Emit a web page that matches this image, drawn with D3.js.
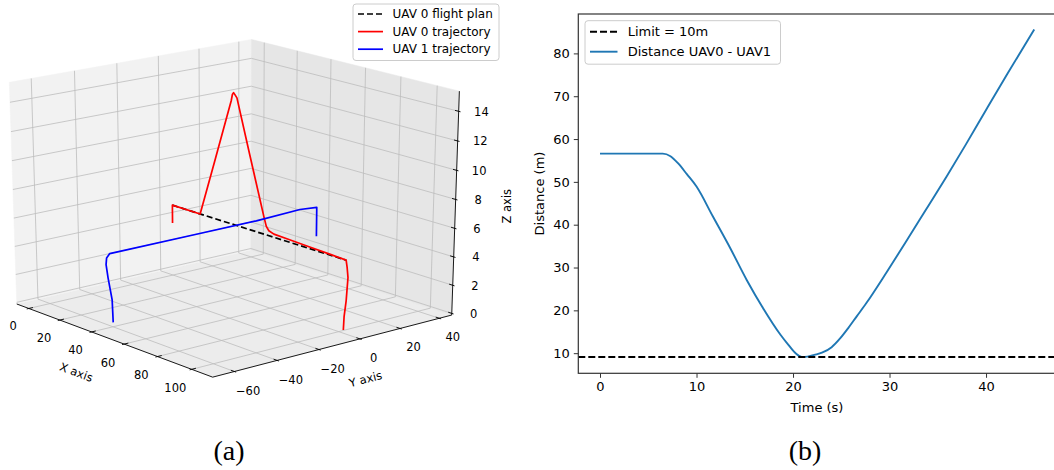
<!DOCTYPE html>
<html>
<head>
<meta charset="utf-8">
<script src="https://cdn.jsdelivr.net/npm/d3@7"></script>
<style>
  body { margin: 0; background: #fff; }
  text { font-family: "DejaVu Sans", sans-serif; fill: #000; }
</style>
</head>
<body>
<svg id="fig" width="1054" height="470"></svg>
<script>
// ---------- panel (a): 3D flight paths ----------
const planX = [0, 103.5];
const planY = [0, 0];
const planZ = [5, 5];

const uav0X = [0, 0, 17.4, 27, 36.5, 37.2, 37.9, 38.6, 39.9, 47, 56.1, 57.5, 59, 62, 70, 82, 95, 103.5, 104.1, 104.7, 103.9, 102.9, 102.6];
const uav0Y = [0, 0, 0, 0, 0, 0, 0, 0, 0, 0, 0, 0, 0, 0, 0, 0, 0, 0, 0, 0, 0, 0, 0];
const uav0Z = [3.7, 5, 5, 9.3, 13.6, 14.05, 14.2, 14.1, 13.9, 10.5, 6.2, 5.6, 5.35, 5.22, 5.18, 5.12, 5.05, 5.0, 4.55, 3.85, 2.2, 1.05, 0.1];

const uav1X = [39.5, 39.5, 39.5, 39.5, 39.5, 39.5, 39.5, 39.5, 39.5, 39.5, 39.5];
const uav1Y = [-59.5, -59.8, -61.5, -62.3, -62, -60.5, -20, 10, 32, 40.6, 40.6];
const uav1Z = [0.15, 1.75, 3.35, 4.3, 4.75, 5.0, 5.0, 5.0, 5.12, 5.0, 2.9];

const xTicks = [0, 20, 40, 60, 80, 100];
const yTicks = [-60, -40, -20, 0, 20, 40];
const zTicks = [0, 2, 4, 6, 8, 10, 12, 14];

// ---------- panel (b): distance over time ----------
const timeS = [0, 6.5, 7.3, 8.1, 9, 10, 11.7, 13.5, 15.2, 16.9, 18.7, 19.5, 20.3, 20.9, 21.5, 22.2, 23, 24, 24.9, 25.7, 26.6, 27.6, 29.7, 31.7, 33.8, 35.9, 37.9, 40, 42.2, 45];
const distM = [56.6, 56.6, 56.0, 54.3, 51.8, 48.9, 41.9, 34.5, 27.1, 20.5, 14.3, 12.0, 9.9, 9.1, 9.2, 9.6, 10.1, 11.4, 13.5, 15.8, 18.6, 21.7, 28.9, 36.0, 43.6, 51.2, 58.7, 66.8, 75.2, 85.6];
const limitM = 9.1;
const tTicks = [0, 10, 20, 30, 40];
const dTicks = [10, 20, 30, 40, 50, 60, 70, 80];

const svg = d3.select("#fig");
svg.append("rect").attr("width", 1054).attr("height", 470).attr("fill", "#fff");

const minus = v => String(v).replace("-", "\u2212");

// ===== 3D projection (azimuth / elevation view with a little perspective) =====
const xLim = [-7.9, 112], yLim = [-70, 46.4], zLim = [-0.12, 15.35];
const azim = -40 * Math.PI / 180, elev = 20 * Math.PI / 180, camDist = 10;

const nx = d3.scaleLinear().domain(xLim).range([-0.5, 0.5]);
const ny = d3.scaleLinear().domain(yLim).range([-0.5, 0.5]);
const nz = d3.scaleLinear().domain(zLim).range([-0.5, 0.5]);
const sxPx = d3.scaleLinear().domain([-1, 1]).range([233 - 314, 233 + 314]);
const syPx = d3.scaleLinear().domain([-1, 1]).range([200 + 237, 200 - 237]);

function project(x, y, z) {
  const u = nx(x), v = ny(y), w = nz(z);
  const ca = Math.cos(azim), sa = Math.sin(azim);
  const ce = Math.cos(elev), se = Math.sin(elev);
  const sx = -sa * u + ca * v;
  const sy = -se * ca * u - se * sa * v + ce * w;
  const dep = ce * ca * u + ce * sa * v + se * w;
  const f = camDist / (camDist - dep);
  return [sxPx(sx * f), syPx(sy * f)];
}

const line3 = d3.line().x(p => project(...p)[0]).y(p => project(...p)[1]);
const g3 = svg.append("g");

const [x0, x1] = xLim, [y0, y1] = yLim, [z0, z1] = zLim;
const rx = x1 - x0, ry = y1 - y0, rz = z1 - z0;

// panes
const panes = [
  {pts: [[x0, y0, z0], [x1, y0, z0], [x1, y1, z0], [x0, y1, z0]], fill: "#ececec"},
  {pts: [[x0, y0, z0], [x0, y1, z0], [x0, y1, z1], [x0, y0, z1]], fill: "#f2f2f2"},
  {pts: [[x0, y1, z0], [x1, y1, z0], [x1, y1, z1], [x0, y1, z1]], fill: "#e6e6e6"}
];
g3.selectAll("path.pane").data(panes).enter().append("path")
  .attr("class", "pane")
  .attr("d", d => line3(d.pts) + "Z")
  .attr("fill", d => d.fill)
  .attr("stroke", d => d.fill)
  .attr("stroke-width", 0.5);

// grid lines on the panes
const grid = [];
xTicks.forEach(x => { grid.push([[x, y0, z0], [x, y1, z0], [x, y1, z1]]); });
yTicks.forEach(y => { grid.push([[x1, y, z0], [x0, y, z0], [x0, y, z1]]); });
zTicks.forEach(z => { grid.push([[x0, y0, z], [x0, y1, z], [x1, y1, z]]); });
g3.selectAll("path.grid").data(grid).enter().append("path")
  .attr("class", "grid")
  .attr("d", d => line3(d))
  .attr("fill", "none")
  .attr("stroke", "#bdbdbd")
  .attr("stroke-width", 0.8);

// axis lines
const axes = [
  [[x0, y0, z0], [x1, y0, z0]],
  [[x1, y0, z0], [x1, y1, z0]],
  [[x1, y1, z0], [x1, y1, z1]]
];
g3.selectAll("path.axis").data(axes).enter().append("path")
  .attr("d", d => line3(d))
  .attr("stroke", "#000")
  .attr("stroke-width", 0.9);

// tick marks
const ticks = [];
xTicks.forEach(x => ticks.push([[x, y0 + ry / 60, z0], [x, y0 - ry / 120, z0]]));
yTicks.forEach(y => ticks.push([[x1 - rx / 60, y, z0], [x1 + rx / 120, y, z0]]));
zTicks.forEach(z => ticks.push([[x1 - rx / 60, y1, z], [x1 + rx / 120, y1, z]]));
g3.selectAll("path.tick").data(ticks).enter().append("path")
  .attr("d", d => line3(d))
  .attr("stroke", "#000")
  .attr("stroke-width", 0.9);

// tick labels
const kx = 0.065, ky = 0.065, kz = 0.05;
const labels3 = [];
xTicks.forEach(x => labels3.push({p: [x, y0 - kx * ry, z0 - kx * rz], t: minus(x)}));
yTicks.forEach(y => labels3.push({p: [x1 + ky * rx, y, z0 - ky * rz], t: minus(y)}));
zTicks.forEach(z => labels3.push({p: [x1 + kz * rx, y1 + kz * ry, z], t: minus(z)}));
g3.selectAll("text.tl").data(labels3).enter().append("text")
  .attr("x", d => project(...d.p)[0])
  .attr("y", d => project(...d.p)[1])
  .attr("text-anchor", "middle")
  .attr("dominant-baseline", "central")
  .style("font-size", "11.5px")
  .text(d => d.t);

// axis titles
function angleOf(a, b) {
  const pa = project(...a), pb = project(...b);
  return Math.atan2(pb[1] - pa[1], pb[0] - pa[0]) * 180 / Math.PI;
}
const axTitles = [
  {p: [(x0 + x1) / 2, y0 - 0.14 * ry, z0 - 0.11 * rz], t: "X axis", a: angleOf([x0, y0, z0], [x1, y0, z0])},
  {p: [x1 + 0.14 * rx, (y0 + y1) / 2, z0 - 0.105 * rz], t: "Y axis", a: angleOf([x1, y0, z0], [x1, y1, z0])},
  {p: [x1 + 0.115 * rx, y1 + 0.115 * ry, (z0 + z1) / 2], t: "Z axis", a: -90}
];
g3.selectAll("text.at").data(axTitles).enter().append("text")
  .attr("transform", d => {
    const q = project(...d.p);
    return "translate(" + q[0] + "," + q[1] + ") rotate(" + d.a + ")";
  })
  .attr("text-anchor", "middle")
  .attr("dominant-baseline", "central")
  .style("font-size", "11.5px")
  .text(d => d.t);

// data lines
g3.append("path")
  .attr("d", line3(d3.zip(planX, planY, planZ)))
  .attr("fill", "none").attr("stroke", "#000")
  .attr("stroke-width", 1.7).attr("stroke-dasharray", "6,3");
g3.append("path")
  .attr("d", line3(d3.zip(uav0X, uav0Y, uav0Z)))
  .attr("fill", "none").attr("stroke", "#ff0000")
  .attr("stroke-width", 1.7).attr("stroke-linejoin", "round");
g3.append("path")
  .attr("d", line3(d3.zip(uav1X, uav1Y, uav1Z)))
  .attr("fill", "none").attr("stroke", "#0000ff")
  .attr("stroke-width", 1.7).attr("stroke-linejoin", "round");

// legend (a)
const legA = svg.append("g");
legA.append("rect").attr("x", 353).attr("y", 4).attr("width", 146).attr("height", 56.5)
  .attr("rx", 3).attr("fill", "#fff").attr("fill-opacity", 0.8)
  .attr("stroke", "#cccccc").attr("stroke-width", 1);
const legAItems = [
  {t: "UAV 0 flight plan", c: "#000", dash: "6,3"},
  {t: "UAV 0 trajectory", c: "#ff0000", dash: null},
  {t: "UAV 1 trajectory", c: "#0000ff", dash: null}
];
legAItems.forEach((d, i) => {
  const yy = 14 + i * 17.6;
  legA.append("line").attr("x1", 358).attr("x2", 383).attr("y1", yy).attr("y2", yy)
    .attr("stroke", d.c).attr("stroke-width", 1.7).attr("stroke-dasharray", d.dash);
  legA.append("text").attr("x", 392.5).attr("y", yy).attr("dominant-baseline", "central")
    .style("font-size", "12px").text(d.t);
});

// ===== panel (b) =====
const xS = d3.scaleLinear().domain([-2.25, 47.25]).range([578.3, 1056]);
const yS = d3.scaleLinear().domain([5.3, 89.2]).range([373.3, 14]);
const g2 = svg.append("g");

g2.append("path")
  .attr("d", d3.line().curve(d3.curveMonotoneX).x(d => xS(d[0])).y(d => yS(d[1]))(d3.zip(timeS, distM)))
  .attr("fill", "none").attr("stroke", "#1f77b4").attr("stroke-width", 1.9);
g2.append("line")
  .attr("x1", xS(-2.25)).attr("x2", xS(47.25)).attr("y1", yS(limitM)).attr("y2", yS(limitM))
  .attr("stroke", "#000").attr("stroke-width", 1.9).attr("stroke-dasharray", "7,3");

g2.append("rect").attr("x", 578.3).attr("y", 14).attr("width", 1056 - 578.3).attr("height", 373.3 - 14)
  .attr("fill", "none").attr("stroke", "#333").attr("stroke-width", 1.2);

const xAx = g2.append("g").attr("transform", "translate(0,373.3)")
  .call(d3.axisBottom(xS).tickValues(tTicks).tickSize(4.5).tickPadding(4).tickFormat(d3.format("d")));
const yAx = g2.append("g").attr("transform", "translate(578.3,0)")
  .call(d3.axisLeft(yS).tickValues(dTicks).tickSize(4.5).tickPadding(4).tickFormat(d3.format("d")));
[xAx, yAx].forEach(a => {
  a.select(".domain").remove();
  a.selectAll("line").attr("stroke", "#333").attr("stroke-width", 1);
  a.selectAll("text").style("font-size", "13px").style("font-family", "DejaVu Sans").attr("fill", "#000");
});

g2.append("text").attr("x", 817).attr("y", 407).attr("text-anchor", "middle")
  .attr("dominant-baseline", "central").style("font-size", "13px").text("Time (s)");
g2.append("text").attr("transform", "translate(539.5,193.5) rotate(-90)").attr("text-anchor", "middle")
  .attr("dominant-baseline", "central").style("font-size", "13px").text("Distance (m)");

// legend (b)
const legB = svg.append("g");
legB.append("rect").attr("x", 585).attr("y", 20.7).attr("width", 195.5).attr("height", 43.5)
  .attr("rx", 3).attr("fill", "#fff").attr("fill-opacity", 0.8)
  .attr("stroke", "#cccccc").attr("stroke-width", 1);
const legBItems = [
  {t: "Limit = 10m", c: "#000", dash: "7,3"},
  {t: "Distance UAV0 - UAV1", c: "#1f77b4", dash: null}
];
legBItems.forEach((d, i) => {
  const yy = 31.7 + i * 20;
  legB.append("line").attr("x1", 590).attr("x2", 617.5).attr("y1", yy).attr("y2", yy)
    .attr("stroke", d.c).attr("stroke-width", 1.9).attr("stroke-dasharray", d.dash);
  legB.append("text").attr("x", 627.7).attr("y", yy).attr("dominant-baseline", "central")
    .style("font-size", "13px").text(d.t);
});

// sub-figure captions
svg.append("text").attr("x", 229).attr("y", 460).attr("text-anchor", "middle")
  .style("font-family", "Liberation Serif, serif").style("font-size", "28px").text("(a)");
svg.append("text").attr("x", 805).attr("y", 460).attr("text-anchor", "middle")
  .style("font-family", "Liberation Serif, serif").style("font-size", "28px").text("(b)");
</script>
</body>
</html>
